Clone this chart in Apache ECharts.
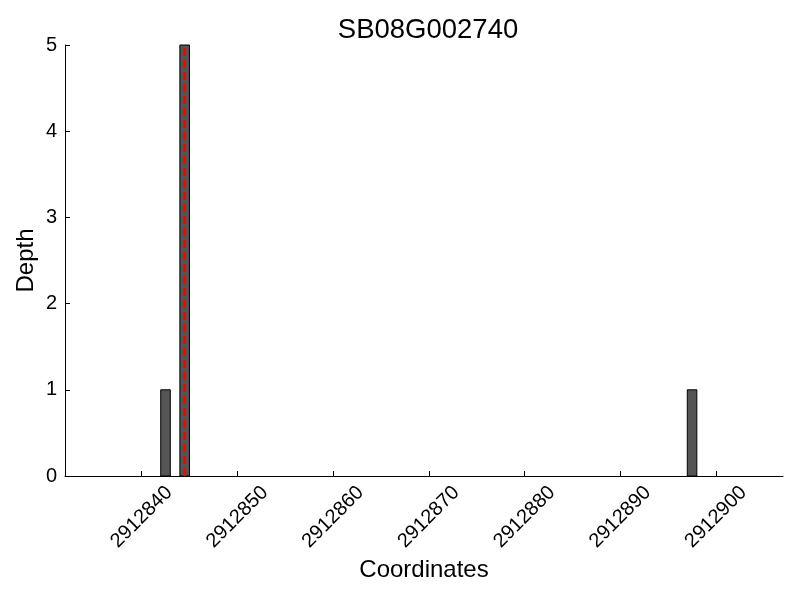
<!DOCTYPE html>
<html>
<head>
<meta charset="utf-8">
<script src="https://cdn.jsdelivr.net/npm/echarts@6/dist/echarts.min.js"></script>
<style>html,body{margin:0;padding:0;background:#fff}#c{width:800px;height:600px}</style>
</head>
<body>
<div id="c"></div>
<script>
const title = 'SB08G002740';
const positions = [2912842, 2912844, 2912897];
const depths = [1, 5, 1];
const markerPos = 2912844.5;
const xTicks = [2912840, 2912850, 2912860, 2912870, 2912880, 2912890, 2912900];
const yTicks = [0, 1, 2, 3, 4, 5];
const xMin = 2912832, xMax = 2912907;
const barSpan = 1;

const font = 'Liberation Sans, Arial, sans-serif';
const chart = echarts.init(document.getElementById('c'));
chart.setOption({
  backgroundColor: '#fff',
  animation: false,
  title: {
    text: title, left: 423, top: 11, textAlign: 'center',
    textStyle: { fontFamily: font, fontSize: 27.5, fontWeight: 'normal', color: '#000' }
  },
  grid: { left: 65, right: 17, top: 45, bottom: 124 },
  xAxis: {
    type: 'value', min: xMin, max: xMax,
    name: 'Coordinates', nameLocation: 'middle', nameGap: 77,
    nameTextStyle: { fontFamily: font, fontSize: 24, color: '#000' },
    axisLine: { show: true, lineStyle: { color: '#000', width: 1 } },
    axisTick: { show: true, inside: true, length: 5, lineStyle: { color: '#000' }, customValues: xTicks },
    axisLabel: {
      customValues: xTicks, rotate: 45, align: 'center', verticalAlign: 'middle', margin: 41,
      fontFamily: font, fontSize: 20, color: '#000',
      formatter: function (v) { return String(Math.round(v)); }
    },
    splitLine: { show: false }
  },
  yAxis: {
    type: 'value', min: 0, max: 5, interval: 1,
    name: 'Depth', nameLocation: 'middle', nameGap: 27, nameMoveOverlap: false,
    nameTextStyle: { fontFamily: font, fontSize: 24, color: '#000' },
    axisLine: { show: true, lineStyle: { color: '#000', width: 1 } },
    axisTick: { show: true, inside: true, length: 5, lineStyle: { color: '#000' } },
    axisLabel: { margin: 8, fontFamily: font, fontSize: 20, color: '#000',
      formatter: function (v) { return yTicks.indexOf(v) >= 0 ? String(v) : ''; } },
    splitLine: { show: false }
  },
  series: [{
    type: 'custom',
    data: positions.map((p, i) => [p, depths[i]]),
    renderItem: function (params, api) {
      const x = api.value(0), h = api.value(1);
      const p0 = api.coord([x, 0]);
      const p1 = api.coord([x + barSpan, h]);
      return {
        type: 'rect',
        shape: { x: p0[0], y: p1[1], width: p1[0] - p0[0], height: p0[1] - p1[1] },
        style: { fill: '#555555', stroke: '#000', lineWidth: 1 }
      };
    },
    z: 2
  }, {
    type: 'custom',
    data: [[markerPos]],
    renderItem: function (params, api) {
      const x = api.value(0);
      const a = api.coord([x, 0]);
      const b = api.coord([x, 5]);
      return {
        type: 'line',
        shape: { x1: a[0], y1: a[1], x2: b[0], y2: b[1] },
        style: { stroke: '#ff0000', lineWidth: 3, lineDash: [8, 4] }
      };
    },
    z: 5
  }]
});
</script>
</body>
</html>
